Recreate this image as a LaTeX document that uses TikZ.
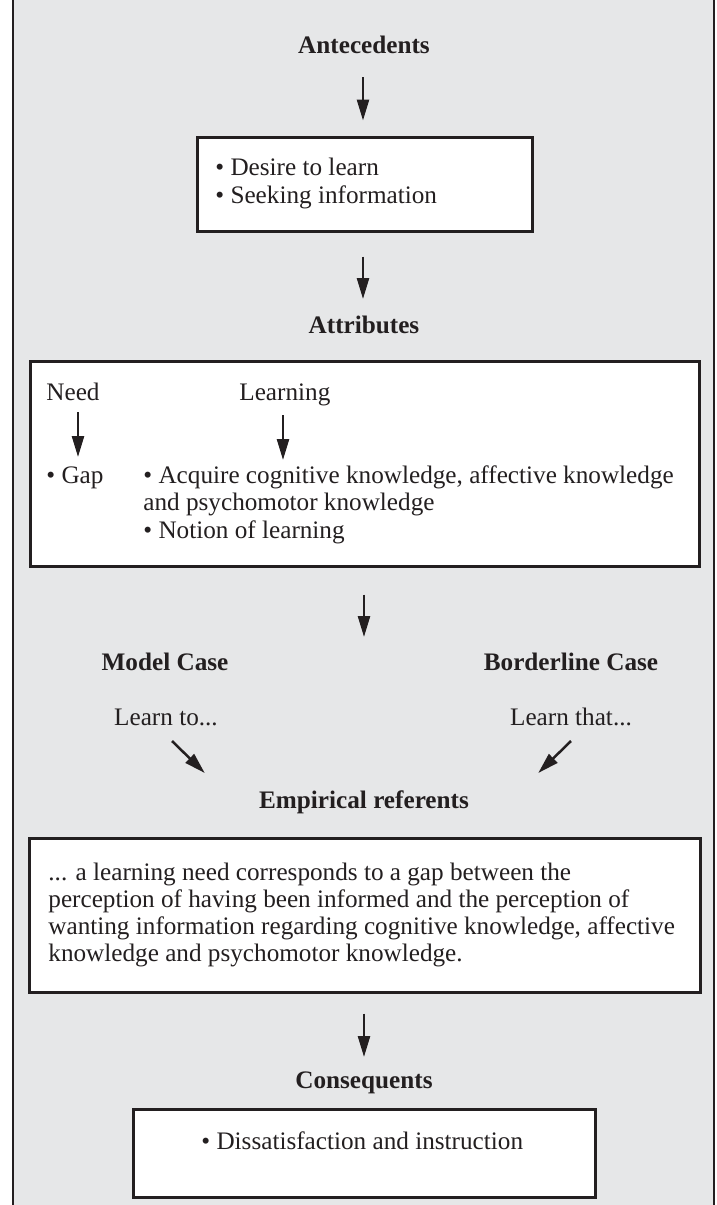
\documentclass[tikz,border=0pt]{standalone}
\usepackage{fontspec}
\setmainfont{Liberation Serif}
\usetikzlibrary{arrows.meta,calc}
\definecolor{bg}{HTML}{E6E7E8}
\definecolor{ink}{HTML}{231F20}
\begin{document}
\begin{tikzpicture}[x=0.5pt,y=-0.5pt,
  txt/.style={font=\fontsize{12.6}{13.8}\selectfont, inner sep=0pt, anchor=base west, text=ink},
  ctxt/.style={txt, anchor=base},
  head/.style={font=\fontsize{12.6}{13.8}\selectfont\bfseries, inner sep=0pt, anchor=base, text=ink},
  box/.style={draw=ink, line width=1.5pt, fill=white, inner sep=0pt},
  arr/.style={draw=ink, line width=1.25pt, -{Triangle[length=10.5pt,width=6pt]}}]
\useasboundingbox (0,0) rectangle (717,1205);
\fill[bg] (13,-10) rectangle (714,1215);
\draw[ink, line width=1.4pt] (13,-10) -- (13,1215) (714,-10) -- (714,1215);

% Antecedents
\node[head] (ante) at (364,53) {Antecedents};
\node[box, minimum width=167.5pt, minimum height=47pt] (b1) at (364.5,184) {};
\node[txt] (d1) at (215,175) {• Desire to learn};
\node[txt] (d2) at (215,203) {• Seeking information};
\draw[arr] ($(ante.base)+(-1,24)$) -- ($(b1.north)+(-1.5,-15)$);

% Attributes
\node[head] (attr) at (364,333) {Attributes};
\draw[arr] ($(b1.south)+(-1.5,24)$) -- ($(attr.base)+(-1,-34)$);
\node[box, minimum width=334.5pt, minimum height=102.5pt] (b2) at (364.5,463.5) {};
\node[txt] (need) at (46,400) {Need};
\node[txt] (learn) at (239,400) {Learning};
\node[txt] (gap) at (46,483) {• Gap};
\node[txt] (acq) at (143,483) {• Acquire cognitive knowledge, affective knowledge};
\node[txt] (acq2) at (143,510) {and psychomotor knowledge};
\node[txt] (notion) at (143,538) {• Notion of learning};
\draw[arr] ($(need.base west)+(32,12)$) -- ($(gap.base west)+(32,-26)$);
\draw[arr] ($(learn.base west)+(44,15)$) -- ($(acq.base west)+(140,-23)$);

% cases
\coordinate (c3) at (364,637);
\draw[arr] ($(b2.south)+(-0.5,27)$) -- (c3);
\node[head] (model) at (165,670) {Model Case};
\node[head] (border) at (571,670) {Borderline Case};
\node[ctxt] (lto) at (166,725) {Learn to...};
\node[ctxt] (lthat) at (571,725) {Learn that...};

% Empirical referents
\node[head] (emp) at (364,808) {Empirical referents};
\draw[arr] ($(lto.base)+(6,16)$) -- ($(emp.base west)+(-54,-35)$);
\draw[arr] ($(lthat.base)+(0,16)$) -- ($(emp.base east)+(69,-35)$);
\node[box, minimum width=335.5pt, minimum height=77pt] (b3) at (364.5,915) {};
\node[txt] (e1) at (48,880) {... a learning need corresponds to a gap between the};
\node[txt] (e2) at (48,907) {perception of having been informed and the perception of};
\node[txt] (e3) at (48,934) {wanting information regarding cognitive knowledge, affective};
\node[txt] (e4) at (48,961) {knowledge and psychomotor knowledge.};

% Consequents
\node[head] (cons) at (364,1088) {Consequents};
\draw[arr] ($(b3.south)+(-0.5,20)$) -- ($(cons.base)+(0,-31)$);
\node[box, minimum width=231pt, minimum height=44pt] (b4) at (364,1153) {};
\node[txt] (dis) at (201,1149) {• Dissatisfaction and instruction};
\end{tikzpicture}
\end{document}
